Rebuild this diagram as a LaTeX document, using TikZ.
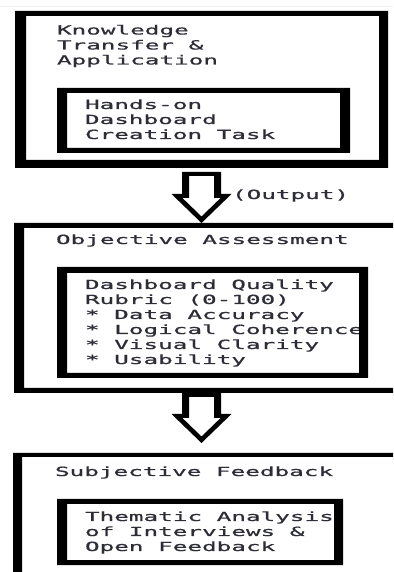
\documentclass[tikz,border=0pt]{standalone}
\usepackage{fontspec}
\newfontfamily\monofnt[FakeStretch=1.93, FakeBold=0.8]{DejaVu Sans Mono}
\usetikzlibrary{calc}
\definecolor{txt}{RGB}{45,45,55}
\newcommand\heavyframe[5]{\fill[black, even odd rule] (#1.north west) rectangle (#1.south east) ($(#1.north west)+(#2,-#4)$) rectangle ($(#1.south east)+(-#3,#5)$);}
\newcommand\monosetup{\monofnt\fontsize{12.6bp}{15bp}\selectfont}
\newcommand\msp{\hspace*{14.6bp}}
\begin{document}
\begin{tikzpicture}[x=1bp,y=1bp,
  region/.style={rectangle, inner sep=0pt, outer sep=0pt, anchor=north west},
  txtline/.style={anchor=base west, inner sep=0pt, outer sep=0pt, text width=330bp, align=left, text=txt, font=\monosetup},
  fatarrow/.style={to path={
    let \p1=(\tikztostart), \p2=(\tikztotarget) in
    (\x1-19.5bp,\y1) -- (\x1+19.5bp,\y1) -- (\x1+19.5bp,\y2+29bp) -- (\x1+30bp,\y2+29bp) -- (\x2,\y2)
      -- (\x1-30bp,\y2+29bp) -- (\x1-19.5bp,\y2+29bp) -- cycle
    (\x1-12.5bp,\y1-4bp) -- (\x1+12.5bp,\y1-4bp) -- (\x1+12.5bp,\y2+25bp) -- (\x1+19.1bp,\y2+25bp) -- (\x2,\y2+6.5bp)
      -- (\x1-19.1bp,\y2+25bp) -- (\x1-12.5bp,\y2+25bp) -- cycle
  }}
]
\useasboundingbox (0,0) rectangle (393,572);
\fill[white] (0,0) rectangle (393,572);
\clip (0,0) rectangle (393,572);
\draw[gray!12, line width=1bp] (0,565.5) -- (393,565.5);

% regions
\node[region, minimum width=373bp, minimum height=157bp] (b1) at (15,561) {};
\node[region, minimum width=293bp, minimum height=65bp] (i1) at (57,484) {};
\node[region, minimum width=406bp, minimum height=170bp] (b2) at (14,349) {};
\node[region, minimum width=311bp, minimum height=111bp] (i2) at (57,305) {};
\node[region, minimum width=407bp, minimum height=149bp] (b3) at (13,119) {};
\node[region, minimum width=286bp, minimum height=66bp] (i3) at (57,73) {};

% texts
\node[txtline] (t1) at ($(b1.north west)+(42,-23.5)$) {Knowledge\\Transfer\msp\&\\Application};
\node[txtline] (t2) at ($(i1.north west)+(28,-21)$) {Hands-on\\Dashboard\\Creation\msp Task};
\node[txtline] (t3) at ($(b2.north west)+(42,-21)$) {Objective\msp Assessment};
\node[txtline] (t4) at ($(i2.north west)+(28,-22)$) {Dashboard\msp Quality\\Rubric\msp(0-100)\\{}*\msp Data\msp Accuracy\\{}*\msp Logical\msp Coherence\\{}*\msp Visual\msp Clarity\\{}*\msp Usability};
\node[txtline] (t5) at ($(b3.north west)+(42,-23)$) {Subjective\msp Feedback};
\node[txtline] (t6) at ($(i3.north west)+(28,-22)$) {Thematic\msp Analysis\\of\msp Interviews\msp\&\\Open\msp Feedback};
\node[txtline] (out) at ($(b1.south)+(30.5,-31)$) {(Output)};

% frames
\heavyframe{b1}{11}{9}{5}{8}
\heavyframe{i1}{10}{10}{5}{5}
\heavyframe{b2}{10}{0}{5}{5}
\heavyframe{i2}{10}{9}{6}{5}
\heavyframe{b3}{9}{0}{4}{0}
\heavyframe{i3}{10}{9}{5}{5}

% arrows
\fill[black, even odd rule] ($(b1.south)+(0,-4)$) to[fatarrow] (b1.south |- b2.north);
\fill[black, even odd rule] (b1.south |- b2.south) to[fatarrow] ($(b1.south |- b3.north)+(0,10)$);
\end{tikzpicture}
\end{document}
